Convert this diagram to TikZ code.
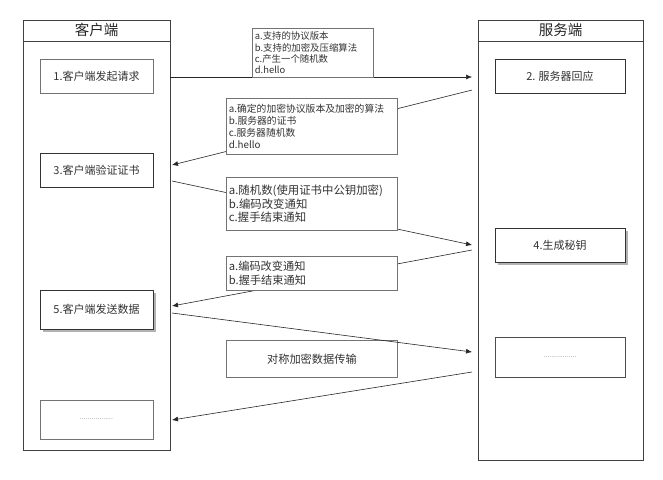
\documentclass[tikz,border=0pt]{standalone}
\usepackage{fontspec}
\setmainfont{Noto Sans CJK SC}
\usetikzlibrary{arrows.meta,shadows}
\begin{document}
\begin{tikzpicture}[x=1pt,y=-1pt,
  lane/.style={draw=black!75, line width=0.9pt, anchor=north west, inner sep=0},
  head/.style={font=\fontsize{14.5}{16}\selectfont, text=black!85},
  stepbox/.style={draw=black!80, line width=0.9pt, fill=white, minimum width=113pt, minimum height=34pt, inner sep=0, font=\fontsize{11}{13}\selectfont, text=black!80},
  sbox/.style={stepbox, minimum width=130pt},
  graybox/.style={stepbox, draw=black!55},
  shad/.style={drop shadow={shadow xshift=3pt, shadow yshift=-3pt, fill=black!30, opacity=1}},
  lbl/.style={draw=black!55, line width=0.8pt, fill=white, align=left, anchor=north west, inner sep=2.5pt, text=black!80},
  arr/.style={-{Latex[length=6pt,width=5pt]}, line width=0.6pt, draw=black!85}
]
\useasboundingbox (0,0) rectangle (663,479);
% lanes
\node[lane, minimum width=147pt, minimum height=430pt] (cl) at (23,20) {};
\draw[black!75, line width=0.9pt] (23,41) -- (170,41);
\node[head] (clh) at (96.5,30) {客户端};
\node[lane, minimum width=165pt, minimum height=440pt] (sl) at (478,20) {};
\draw[black!75, line width=0.9pt] (478,41) -- (643,41);
\node[head] (slh) at (560.5,30) {服务端};
% client boxes
\node[graybox] (c1) at (96.5,76.5) {1.客户端发起请求};
\node[stepbox] (c3) at (96.5,170.5) {3.客户端验证证书};
\node[stepbox, shad, minimum height=39pt] (c5) at (96.5,309.5) {5.客户端发送数据};
\node[graybox, minimum height=39pt] (c6) at (96.5,419.5) {\textcolor{black!50}{\fontsize{7}{8}\selectfont .................}};
% server boxes
\node[sbox] (s2) at (560,76.5) {2. 服务器回应};
\node[sbox, shad] (s4) at (560,245) {4.生成秘钥};
\node[sbox, draw=black!70, minimum height=40pt] (s6) at (560,357.5) {\textcolor{black!50}{\fontsize{7}{8}\selectfont .................}};
% connector end points
\coordinate (a1s) at (170,77);   \coordinate (a1e) at (472,77);
\coordinate (a2s) at (472,90);   \coordinate (a2e) at (172,165);
\coordinate (a3s) at (172,181);  \coordinate (a3e) at (472,245);
\coordinate (a4s) at (472,250);  \coordinate (a4e) at (172,306);
\coordinate (a5s) at (172,313);  \coordinate (a5e) at (472,352);
\coordinate (a6s) at (472,372);  \coordinate (a6e) at (172,420);
\draw[arr] (a1s) -- (a1e);
\draw[arr] (a2s) -- (a2e);
\draw[arr] (a3s) -- (a3e);
\draw[arr] (a4s) -- (a4e);
\draw[arr] (a6s) -- (a6e);
% labels
\node[lbl, font=\fontsize{9.4}{11.3}\selectfont, text width=116pt, minimum height=49pt] (l1) at (252,28) {a.支持的协议版本\\b.支持的加密及压缩算法\\c.产生一个随机数\\d.hello};
\node[lbl, font=\fontsize{9.8}{12}\selectfont, text width=166pt, minimum height=56pt] (l2) at (226,98) {a.确定的加密协议版本及加密的算法\\b.服务器的证书\\c.服务器随机数\\d.hello};
\node[lbl, font=\fontsize{11.4}{13.4}\selectfont, text width=166pt, minimum height=53pt] (l3) at (226,177) {a.随机数(使用证书中公钥加密)\\b.编码改变通知\\c.握手结束通知};
\node[lbl, font=\fontsize{11.2}{14}\selectfont, text width=166pt, minimum height=34pt] (l4) at (226,256) {a.编码改变通知\\b.握手结束通知};
\node[lbl, font=\fontsize{11.2}{13}\selectfont, minimum width=171pt, minimum height=37pt, anchor=north west, align=center] (l5) at (226,340) {对称加密数据传输};
\draw[arr] (a5s) -- (a5e);
\end{tikzpicture}
\end{document}
